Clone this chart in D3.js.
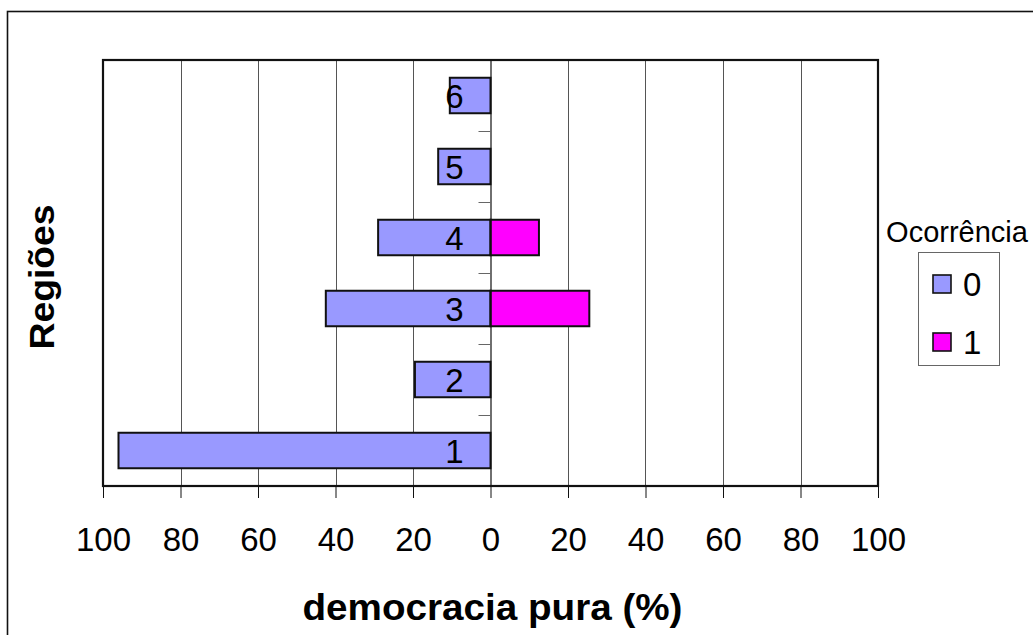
<!DOCTYPE html>
<html>
<head>
<meta charset="utf-8">
<script src="https://cdn.jsdelivr.net/npm/d3@7"></script>
<style>
  body { margin: 0; background: #fff; }
  svg { display: block; font-family: "Liberation Sans", Arial, sans-serif; }
</style>
</head>
<body>
<div id="chart"></div>
<script>
// regions (bottom to top) and % per occurrence value
var regioes = ['1', '2', '3', '4', '5', '6'];
var ocorrencia0 = [96, 19.5, 42.5, 29, 13.5, 10.5];
var ocorrencia1 = [0, 0, 25.5, 12.5, 0, 0];
var xTicks = [-100, -80, -60, -40, -20, 0, 20, 40, 60, 80, 100];
var legendLabels = ['0', '1'];
var colors = ['#9999ff', '#ff00ff'];

(function () {
var W = 1033, H = 635;
var pLeft = 103, pRight = 878, pTop = 60, pBottom = 486;

var svg = d3.select('#chart').append('svg')
	.attr('width', W).attr('height', H);

// outer chart border (only top/left visible in the frame)
svg.append('rect')
	.attr('x', 7.5).attr('y', 11.5).attr('width', W + 20).attr('height', H + 20)
	.attr('fill', 'none').attr('stroke', '#111').attr('stroke-width', 1.6);

var x = d3.scaleLinear().domain([-100, 100]).range([pLeft, pRight]);
var y = d3.scaleBand().domain(regioes).range([pBottom, pTop]).paddingInner(0.5).paddingOuter(0.25);
var yEdge = d3.scaleLinear().domain([0, 6]).range([pBottom, pTop]);

// grid lines
svg.append('g').selectAll('line')
	.data(xTicks.filter(function (d) { return d !== 0 && Math.abs(d) !== 100; }))
	.enter().append('line')
	.attr('x1', function (d) { return Math.round(x(d)) + 0.5; })
	.attr('x2', function (d) { return Math.round(x(d)) + 0.5; })
	.attr('y1', pTop).attr('y2', pBottom)
	.attr('stroke', '#555').attr('stroke-width', 1);

// bars
var rows = regioes.map(function (r, i) { return { r: r, v0: ocorrencia0[i], v1: ocorrencia1[i] }; });

svg.append('g').selectAll('rect')
	.data(rows)
	.enter().append('rect')
	.attr('x', function (d) { return x(-d.v0); })
	.attr('width', function (d) { return x(0) - x(-d.v0); })
	.attr('y', function (d) { return y(d.r); })
	.attr('height', y.bandwidth())
	.attr('fill', colors[0]).attr('stroke', '#111').attr('stroke-width', 2);

svg.append('g').selectAll('rect')
	.data(rows.filter(function (d) { return d.v1 > 0; }))
	.enter().append('rect')
	.attr('x', x(0))
	.attr('width', function (d) { return x(d.v1) - x(0); })
	.attr('y', function (d) { return y(d.r); })
	.attr('height', y.bandwidth())
	.attr('fill', colors[1]).attr('stroke', '#111').attr('stroke-width', 2);

// zero axis with boundary ticks
var yAxis = svg.append('g')
	.attr('transform', 'translate(' + x(0) + ',0)')
	.call(d3.axisLeft(yEdge).tickValues([1, 2, 3, 4, 5]).tickSize(12).tickFormat(''));
yAxis.select('.domain').attr('stroke', '#111').attr('stroke-width', 1.2);
yAxis.selectAll('.tick line').attr('stroke', '#666');

// region labels next to the zero axis
svg.append('g').selectAll('text')
	.data(regioes)
	.enter().append('text')
	.attr('x', x(0) - 27)
	.attr('y', function (d) { return y(d) + y.bandwidth() / 2 + 12; })
	.attr('text-anchor', 'end')
	.attr('font-size', 33)
	.attr('fill', '#000')
	.text(function (d) { return d; });

// plot border
svg.append('rect')
	.attr('x', pLeft).attr('y', pTop).attr('width', pRight - pLeft).attr('height', pBottom - pTop)
	.attr('fill', 'none').attr('stroke', '#111').attr('stroke-width', 2.2);

// x axis
var xAxis = svg.append('g')
	.attr('transform', 'translate(0,' + pBottom + ')')
	.call(d3.axisBottom(x).tickValues(xTicks).tickSize(12).tickPadding(30)
		.tickFormat(function (d) { return Math.abs(d); }));
xAxis.select('.domain').remove();
xAxis.selectAll('.tick line').attr('stroke', '#111');
xAxis.selectAll('.tick text')
	.attr('font-size', 33).attr('fill', '#000')
	.attr('font-family', '"Liberation Sans", Arial, sans-serif');

// axis titles
svg.append('text')
	.attr('x', (pLeft + pRight) / 2 + 2).attr('y', 620)
	.attr('text-anchor', 'middle')
	.attr('font-size', 36).attr('font-weight', 'bold')
	.attr('textLength', 380).attr('lengthAdjust', 'spacingAndGlyphs')
	.text('democracia pura (%)');

svg.append('text')
	.attr('transform', 'translate(54,' + ((pTop + pBottom) / 2 + 4) + ') rotate(-90)')
	.attr('text-anchor', 'middle')
	.attr('font-size', 35).attr('font-weight', 'bold')
	.attr('textLength', 145).attr('lengthAdjust', 'spacingAndGlyphs')
	.text('Regiões');

// legend
svg.append('text')
	.attr('x', 957).attr('y', 242)
	.attr('text-anchor', 'middle')
	.attr('font-size', 29)
	.text('Ocorrência');

var legend = svg.append('g');
legend.append('rect')
	.attr('x', 918.5).attr('y', 252.5).attr('width', 81).attr('height', 113)
	.attr('fill', 'none').attr('stroke', '#666').attr('stroke-width', 1);

var items = legend.selectAll('g.item')
	.data(legendLabels)
	.enter().append('g')
	.attr('transform', function (d, i) { return 'translate(0,' + (i * 58) + ')'; });
items.append('rect')
	.attr('x', 933).attr('y', 275).attr('width', 18).attr('height', 18)
	.attr('fill', function (d, i) { return colors[i]; })
	.attr('stroke', '#111').attr('stroke-width', 1.6);
items.append('text')
	.attr('x', 963).attr('y', 296)
	.attr('font-size', 33)
	.text(function (d) { return d; });
})();
</script>
</body>
</html>
